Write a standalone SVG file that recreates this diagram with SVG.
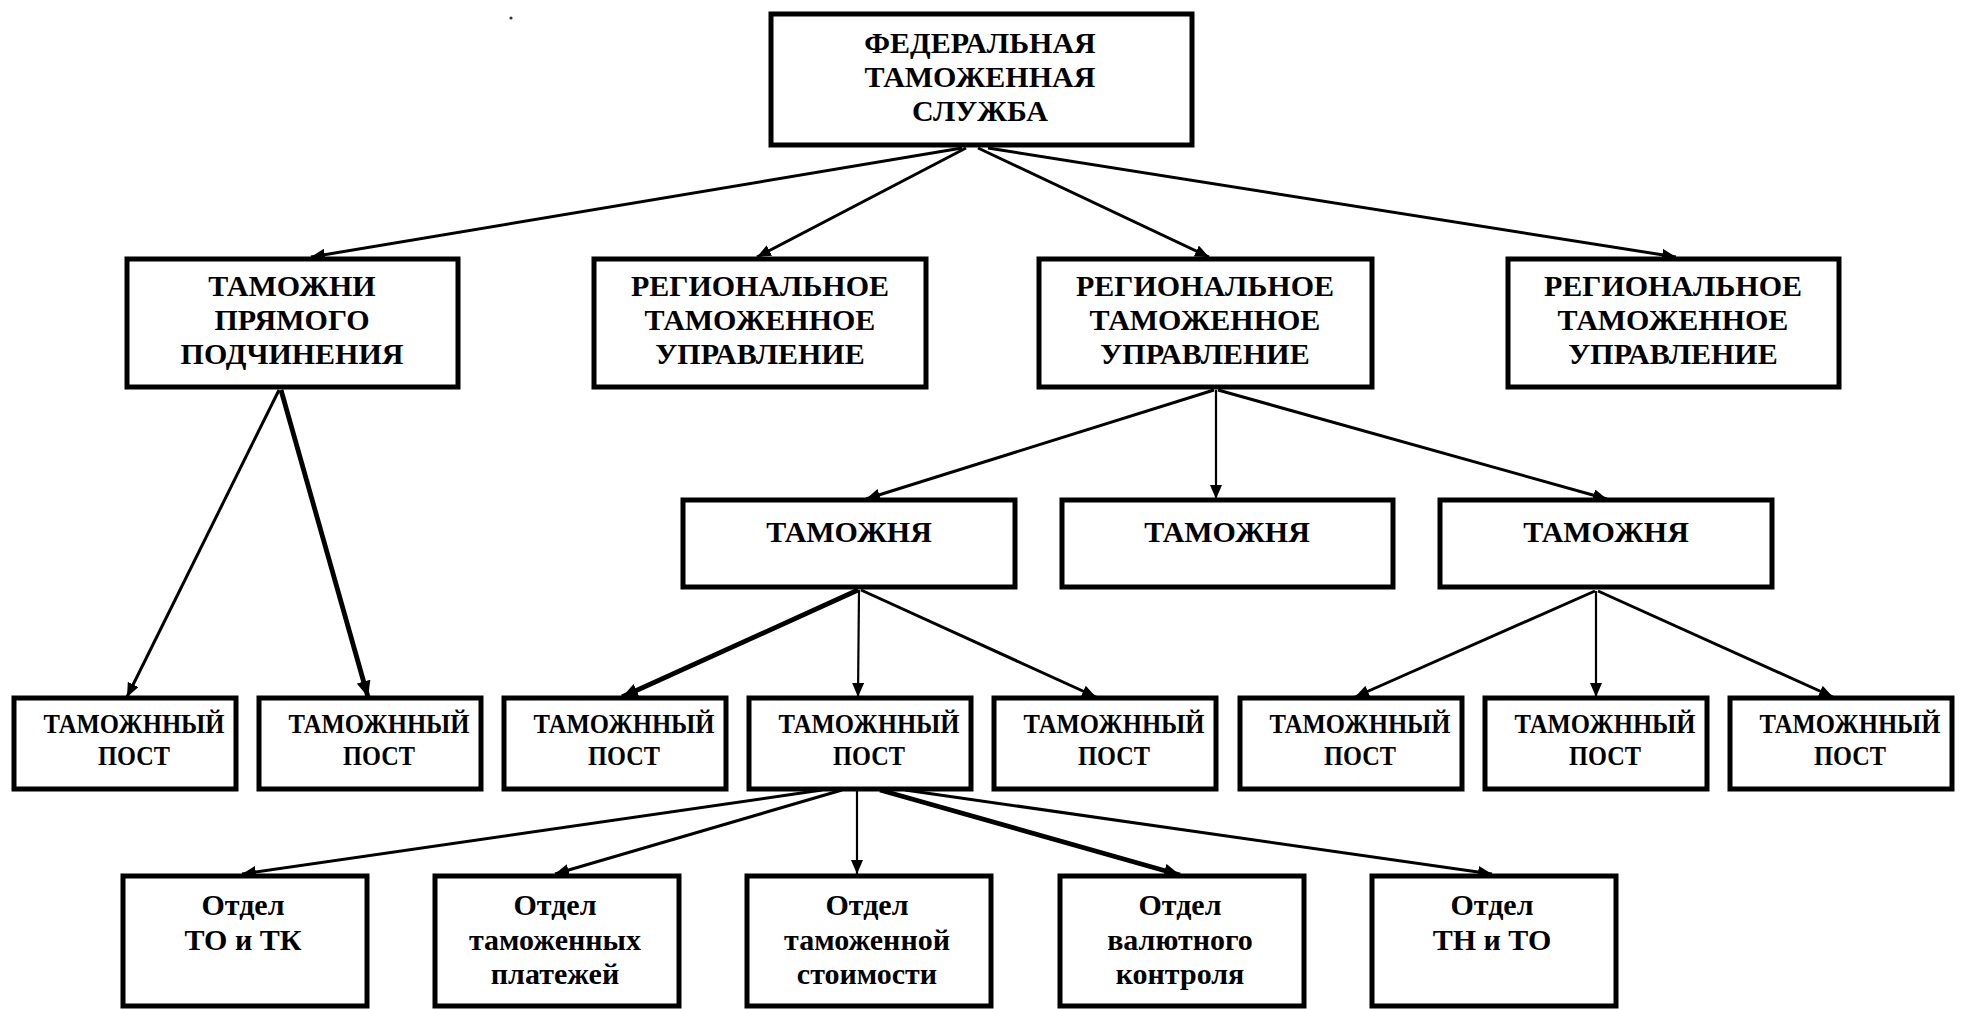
<svg xmlns="http://www.w3.org/2000/svg" width="1964" height="1009" viewBox="0 0 1964 1009">
<defs>
<style>
.box{fill:#fff;stroke:#000;stroke-width:5}
.t{font-weight:bold;font-size:30px;fill:#000;text-anchor:middle}
.tp{font-size:28px}
.c{stroke:#000;stroke-width:3;fill:none;marker-end:url(#ah)}
.thin{stroke-width:2.2}
.thick{stroke-width:4.8;marker-end:url(#ahb)}
</style>
<marker id="ah" markerUnits="userSpaceOnUse" markerWidth="14" markerHeight="12" refX="14" refY="6" orient="auto">
<path d="M0,0 L14,6 L0,12 z" fill="#000"/>
</marker>
<marker id="ahb" markerUnits="userSpaceOnUse" markerWidth="16" markerHeight="14" refX="16" refY="7" orient="auto">
<path d="M0,0 L16,7 L0,14 z" fill="#000"/>
</marker>
</defs>
<rect width="1964" height="1009" fill="#fff"/>
<circle cx="511" cy="18" r="1.6" fill="#333"/>

<g id="connectors">
<line class="c" x1="962" y1="148" x2="311" y2="257"/>
<line class="c" x1="966" y1="148" x2="757" y2="257"/>
<line class="c" x1="978" y1="148" x2="1209" y2="257"/>
<line class="c" x1="988" y1="148" x2="1676" y2="257"/>
<line class="c" x1="279" y1="390" x2="127" y2="697"/>
<line class="c thick" x1="281" y1="390" x2="368" y2="697"/>
<line class="c" x1="1214" y1="390" x2="866" y2="499"/>
<line class="c thin" x1="1216" y1="390" x2="1216" y2="499"/>
<line class="c" x1="1218" y1="390" x2="1607" y2="499"/>
<line class="c thick" x1="858" y1="590" x2="622" y2="697"/>
<line class="c thin" x1="859" y1="590" x2="858" y2="697"/>
<line class="c" x1="861" y1="590" x2="1096" y2="697"/>
<line class="c" x1="1595" y1="591" x2="1355" y2="697"/>
<line class="c thin" x1="1596" y1="591" x2="1596" y2="697"/>
<line class="c" x1="1598" y1="591" x2="1833" y2="697"/>
<line class="c" x1="822" y1="790" x2="242" y2="874"/>
<line class="c" x1="842" y1="790" x2="555" y2="874"/>
<line class="c thin" x1="857" y1="790" x2="857" y2="874"/>
<line class="c thick" x1="880" y1="790" x2="1180" y2="875"/>
<line class="c" x1="905" y1="790" x2="1492" y2="874"/>
</g>

<g id="fts">
<rect class="box" x="771" y="14" width="421" height="131"/>
<text class="t" font-family="Liberation Serif" x="980" y="53">ФЕДЕРАЛЬНАЯ</text>
<text class="t" font-family="Liberation Serif" x="980" y="87">ТАМОЖЕННАЯ</text>
<text class="t" font-family="Liberation Serif" x="980" y="121">СЛУЖБА</text>
</g>
<g id="direct">
<rect class="box" x="127" y="259" width="331" height="128"/>
<text class="t" font-family="Liberation Serif" x="292" y="296">ТАМОЖНИ</text>
<text class="t" font-family="Liberation Serif" x="292" y="330">ПРЯМОГО</text>
<text class="t" font-family="Liberation Serif" x="292" y="364">ПОДЧИНЕНИЯ</text>
</g>
<g id="rtu1">
<rect class="box" x="594" y="259" width="332" height="128"/>
<text class="t" font-family="Liberation Serif" x="760" y="296">РЕГИОНАЛЬНОЕ</text>
<text class="t" font-family="Liberation Serif" x="760" y="330">ТАМОЖЕННОЕ</text>
<text class="t" font-family="Liberation Serif" x="760" y="364">УПРАВЛЕНИЕ</text>
</g>
<g id="rtu2">
<rect class="box" x="1039" y="259" width="333" height="128"/>
<text class="t" font-family="Liberation Serif" x="1205" y="296">РЕГИОНАЛЬНОЕ</text>
<text class="t" font-family="Liberation Serif" x="1205" y="330">ТАМОЖЕННОЕ</text>
<text class="t" font-family="Liberation Serif" x="1205" y="364">УПРАВЛЕНИЕ</text>
</g>
<g id="rtu3">
<rect class="box" x="1508" y="259" width="331" height="128"/>
<text class="t" font-family="Liberation Serif" x="1673" y="296">РЕГИОНАЛЬНОЕ</text>
<text class="t" font-family="Liberation Serif" x="1673" y="330">ТАМОЖЕННОЕ</text>
<text class="t" font-family="Liberation Serif" x="1673" y="364">УПРАВЛЕНИЕ</text>
</g>
<g id="tam1">
<rect class="box" x="683" y="500" width="332" height="87"/>
<text class="t" font-family="Liberation Serif" x="849" y="542">ТАМОЖНЯ</text>
</g>
<g id="tam2">
<rect class="box" x="1062" y="500" width="331" height="87"/>
<text class="t" font-family="Liberation Serif" x="1227" y="542">ТАМОЖНЯ</text>
</g>
<g id="tam3">
<rect class="box" x="1440" y="500" width="332" height="87"/>
<text class="t" font-family="Liberation Serif" x="1606" y="542">ТАМОЖНЯ</text>
</g>
<g id="post1">
<rect class="box" x="14" y="698" width="222" height="91"/>
<text class="t tp" font-family="Liberation Serif" x="134" y="733" textLength="181" lengthAdjust="spacingAndGlyphs">ТАМОЖННЫЙ</text>
<text class="t tp" font-family="Liberation Serif" x="134" y="765" textLength="72" lengthAdjust="spacingAndGlyphs">ПОСТ</text>
</g>
<g id="post2">
<rect class="box" x="259" y="698" width="222" height="91"/>
<text class="t tp" font-family="Liberation Serif" x="379" y="733" textLength="181" lengthAdjust="spacingAndGlyphs">ТАМОЖННЫЙ</text>
<text class="t tp" font-family="Liberation Serif" x="379" y="765" textLength="72" lengthAdjust="spacingAndGlyphs">ПОСТ</text>
</g>
<g id="post3">
<rect class="box" x="504" y="698" width="222" height="91"/>
<text class="t tp" font-family="Liberation Serif" x="624" y="733" textLength="181" lengthAdjust="spacingAndGlyphs">ТАМОЖННЫЙ</text>
<text class="t tp" font-family="Liberation Serif" x="624" y="765" textLength="72" lengthAdjust="spacingAndGlyphs">ПОСТ</text>
</g>
<g id="post4">
<rect class="box" x="749" y="698" width="222" height="91"/>
<text class="t tp" font-family="Liberation Serif" x="869" y="733" textLength="181" lengthAdjust="spacingAndGlyphs">ТАМОЖННЫЙ</text>
<text class="t tp" font-family="Liberation Serif" x="869" y="765" textLength="72" lengthAdjust="spacingAndGlyphs">ПОСТ</text>
</g>
<g id="post5">
<rect class="box" x="994" y="698" width="222" height="91"/>
<text class="t tp" font-family="Liberation Serif" x="1114" y="733" textLength="181" lengthAdjust="spacingAndGlyphs">ТАМОЖННЫЙ</text>
<text class="t tp" font-family="Liberation Serif" x="1114" y="765" textLength="72" lengthAdjust="spacingAndGlyphs">ПОСТ</text>
</g>
<g id="post6">
<rect class="box" x="1240" y="698" width="222" height="91"/>
<text class="t tp" font-family="Liberation Serif" x="1360" y="733" textLength="181" lengthAdjust="spacingAndGlyphs">ТАМОЖННЫЙ</text>
<text class="t tp" font-family="Liberation Serif" x="1360" y="765" textLength="72" lengthAdjust="spacingAndGlyphs">ПОСТ</text>
</g>
<g id="post7">
<rect class="box" x="1485" y="698" width="222" height="91"/>
<text class="t tp" font-family="Liberation Serif" x="1605" y="733" textLength="181" lengthAdjust="spacingAndGlyphs">ТАМОЖННЫЙ</text>
<text class="t tp" font-family="Liberation Serif" x="1605" y="765" textLength="72" lengthAdjust="spacingAndGlyphs">ПОСТ</text>
</g>
<g id="post8">
<rect class="box" x="1730" y="698" width="222" height="91"/>
<text class="t tp" font-family="Liberation Serif" x="1850" y="733" textLength="181" lengthAdjust="spacingAndGlyphs">ТАМОЖННЫЙ</text>
<text class="t tp" font-family="Liberation Serif" x="1850" y="765" textLength="72" lengthAdjust="spacingAndGlyphs">ПОСТ</text>
</g>
<g id="otd1">
<rect class="box" x="123" y="876" width="244" height="130"/>
<text class="t" font-family="Liberation Serif" x="243" y="915">Отдел</text>
<text class="t" font-family="Liberation Serif" x="243" y="950">ТО и ТК</text>
</g>
<g id="otd2">
<rect class="box" x="435" y="876" width="244" height="130"/>
<text class="t" font-family="Liberation Serif" x="555" y="915">Отдел</text>
<text class="t" font-family="Liberation Serif" x="555" y="950">таможенных</text>
<text class="t" font-family="Liberation Serif" x="555" y="984">платежей</text>
</g>
<g id="otd3">
<rect class="box" x="747" y="876" width="244" height="130"/>
<text class="t" font-family="Liberation Serif" x="867" y="915">Отдел</text>
<text class="t" font-family="Liberation Serif" x="867" y="950">таможенной</text>
<text class="t" font-family="Liberation Serif" x="867" y="984">стоимости</text>
</g>
<g id="otd4">
<rect class="box" x="1060" y="876" width="244" height="130"/>
<text class="t" font-family="Liberation Serif" x="1180" y="915">Отдел</text>
<text class="t" font-family="Liberation Serif" x="1180" y="950">валютного</text>
<text class="t" font-family="Liberation Serif" x="1180" y="984">контроля</text>
</g>
<g id="otd5">
<rect class="box" x="1372" y="876" width="244" height="130"/>
<text class="t" font-family="Liberation Serif" x="1492" y="915">Отдел</text>
<text class="t" font-family="Liberation Serif" x="1492" y="950">ТН и ТО</text>
</g>
</svg>
